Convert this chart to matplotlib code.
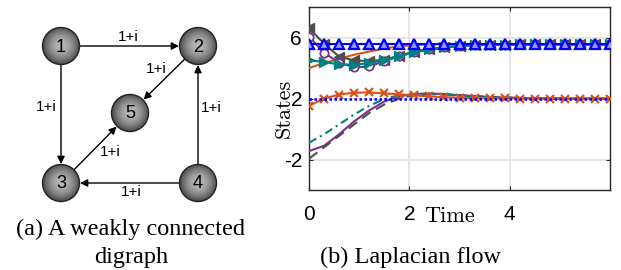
import numpy as np
import matplotlib
matplotlib.use("Agg")
import matplotlib.pyplot as plt
from matplotlib.patches import Circle

plt.rcParams["axes.unicode_minus"] = False

# ---- data ----
t = [0.0, 0.3, 0.6, 0.9, 1.2, 1.5, 1.8, 2.1, 2.4, 2.7, 3.0,
     3.3, 3.6, 3.9, 4.2, 4.5, 4.8, 5.1, 5.4, 5.7, 6.0]

blue_tri = [5.55] * 21
gray_ltri = [6.6, 5.6, 4.75, 4.5, 4.45, 4.55, 4.8, 5.06, 5.22, 5.35, 5.44,
             5.5, 5.53, 5.54, 5.55, 5.55, 5.55, 5.55, 5.55, 5.55, 5.55]
purple_o = [6.06, 5.0, 4.35, 4.05, 4.1, 4.45, 4.76, 5.05, 5.22, 5.35, 5.44,
            5.5, 5.53, 5.54, 5.55, 5.55, 5.55, 5.55, 5.55, 5.55, 5.55]
teal_rtri = [4.5, 4.4, 4.23, 4.22, 4.32, 4.52, 4.8, 5.07, 5.22, 5.36, 5.44,
             5.5, 5.53, 5.54, 5.55, 5.55, 5.55, 5.55, 5.55, 5.55, 5.55]
orange_top = [4.0, 4.32, 4.6, 4.87, 5.08, 5.28, 5.42, 5.5, 5.55, 5.57, 5.57,
              5.56, 5.55, 5.55, 5.55, 5.55, 5.55, 5.55, 5.55, 5.55, 5.55]

blue_dot = [2.0] * 21
orange_x = [1.52, 2.0, 2.26, 2.38, 2.4, 2.34, 2.27, 2.2, 2.14, 2.09, 2.05,
            2.03, 2.02, 2.01, 2.0, 2.0, 2.0, 2.0, 2.0, 2.0, 2.0]
teal_dashdot = [-0.9, -0.35, 0.3, 0.95, 1.52, 1.97, 2.22, 2.3, 2.3, 2.26, 2.2,
                2.14, 2.09, 2.06, 2.04, 2.02, 2.01, 2.0, 2.0, 2.0, 2.0]
purple_line = [-1.45, -1.1, -0.35, 0.5, 1.22, 1.8, 2.14, 2.3, 2.33, 2.29, 2.22,
               2.15, 2.1, 2.06, 2.04, 2.02, 2.01, 2.0, 2.0, 2.0, 2.0]
gray_dash = [-1.95, -1.2, -0.45, 0.3, 1.05, 1.6, 2.0, 2.24, 2.3, 2.28, 2.22,
             2.15, 2.1, 2.06, 2.04, 2.02, 2.01, 2.0, 2.0, 2.0, 2.0]

xticks = [0, 2, 4]
yticks = [-2, 2, 6]

# graph (left panel), layout in figure pixels
node_ids = ["1", "2", "3", "4", "5"]
node_xy = {"1": (61, 46), "2": (198, 46), "3": (61, 183), "4": (198, 183), "5": (130, 113)}
edges = [("1", "2"), ("1", "3"), ("2", "5"), ("3", "5"), ("4", "3"), ("4", "2")]
edge_label = "1+i"
edge_label_xy = [(128, 37), (46, 107), (156, 69), (110, 152), (131, 192), (211, 108)]

ORANGE = "#D95319"
PURPLE = "#7E2F8E"
TEAL = "#008080"
GRAY = "#4D4D4D"
BLUE = "#0000FF"

W, H = 621, 270
fig = plt.figure(figsize=(W / 100, H / 100), dpi=100)

# ---- left: digraph, drawn in pixel coordinates ----
gax = fig.add_axes([0, 0, 1, 1])
gax.set_xlim(0, W)
gax.set_ylim(H, 0)
gax.axis("off")

r = 18.5
yy, xx = np.mgrid[-1:1:80j, -1:1:80j]
rr = np.sqrt(xx ** 2 + yy ** 2)
shade = 0.72 - 0.42 * rr ** 1.8
for n in node_ids:
    cx, cy = node_xy[n]
    im = gax.imshow(shade, cmap="gray", vmin=0, vmax=1, aspect="auto",
                    extent=(cx - r, cx + r, cy + r, cy - r), zorder=3,
                    interpolation="bilinear")
    circ = Circle((cx, cy), r, transform=gax.transData, facecolor="none")
    im.set_clip_path(circ)
    gax.add_patch(Circle((cx, cy), r, facecolor="none", edgecolor="#222222",
                         lw=1.0, zorder=4))
    gax.text(cx, cy + 1, n, ha="center", va="center", fontsize=13,
             family="Liberation Sans", color="black", zorder=5)

for (a, b) in edges:
    x0, y0 = node_xy[a]
    x1, y1 = node_xy[b]
    d = np.hypot(x1 - x0, y1 - y0)
    ux, uy = (x1 - x0) / d, (y1 - y0) / d
    gax.annotate("", xy=(x1 - ux * (r + 0.5), y1 - uy * (r + 0.5)),
                 xytext=(x0 + ux * r, y0 + uy * r),
                 arrowprops=dict(arrowstyle="-|>", color="black", lw=1.0,
                                 mutation_scale=11, shrinkA=0, shrinkB=0),
                 zorder=2)

for (lx, ly) in edge_label_xy:
    gax.text(lx, ly, edge_label, ha="center", va="center", fontsize=11,
             family="Liberation Sans", zorder=5)

gax.text(131, 229, "(a) A weakly connected", ha="center", va="center",
         fontsize=17.5, family="Liberation Serif")
gax.text(131, 257, "digraph", ha="center", va="center",
         fontsize=17.5, family="Liberation Serif")
gax.text(410, 257, "(b) Laplacian flow", ha="center", va="center",
         fontsize=17.5, family="Liberation Serif")

# ---- right: Laplacian flow ----
ax = fig.add_axes([309 / W, 1 - 190 / H, 301 / W, 183 / H])
lw = 1.5
ms = 7
ax.plot(t, orange_top, color=ORANGE, lw=lw, zorder=3)
ax.plot(t, gray_ltri, color=GRAY, lw=lw, marker="<", ms=ms, mfc=GRAY, zorder=3)
ax.plot(t, purple_o, color=PURPLE, lw=lw, marker="o", ms=ms - 1, mfc="white",
        mew=1.3, zorder=3)
ax.plot(t, teal_rtri, color=TEAL, lw=lw, marker=">", ms=ms, mfc=TEAL, zorder=3)
ax.plot(t, purple_line, color=PURPLE, lw=lw, zorder=3)
ax.plot(t, gray_dash, color=GRAY, lw=lw, ls=(0, (5, 3)), zorder=3)
ax.plot(t, teal_dashdot, color=TEAL, lw=lw, ls=(0, (4, 2, 1, 2)), zorder=3)
ax.plot(t, orange_x, color=ORANGE, lw=lw, marker="x", ms=ms - 1.5, mew=1.6, zorder=4)
ax.plot(t, blue_dot, color=BLUE, lw=1.8, ls=(0, (1, 1)), zorder=5)
ax.plot(t, blue_tri, color=BLUE, lw=lw, marker="^", ms=ms, mfc="#9999ff",
        mew=1.6, zorder=6)

ax.set_xlim(0, 6)
ax.set_ylim(-4, 8)
ax.set_xticks(xticks)
ax.set_yticks(yticks)
ax.grid(True, color="#E3E3E3", lw=1.3)
ax.set_axisbelow(True)
for s in ax.spines.values():
    s.set_color("#262626")
    s.set_linewidth(1.0)
ax.tick_params(direction="in", length=3, width=0.8, color="#262626",
               top=True, right=True, labelsize=15)
ax.tick_params(axis="x", pad=11)
ax.tick_params(axis="y", pad=5)
for lab in ax.get_xticklabels() + ax.get_yticklabels():
    lab.set_family("Liberation Sans")

ax.set_xlabel("Time", family="cmr10", fontsize=16)
ax.xaxis.set_label_coords((450 - 309) / 301, -(206 - 190) / 183)
ax.set_ylabel("States", family="cmr10", fontsize=16)
ax.yaxis.set_label_coords((294 - 309) / 301, (190 - 108) / 183)

fig.savefig("out.png", dpi=100)
